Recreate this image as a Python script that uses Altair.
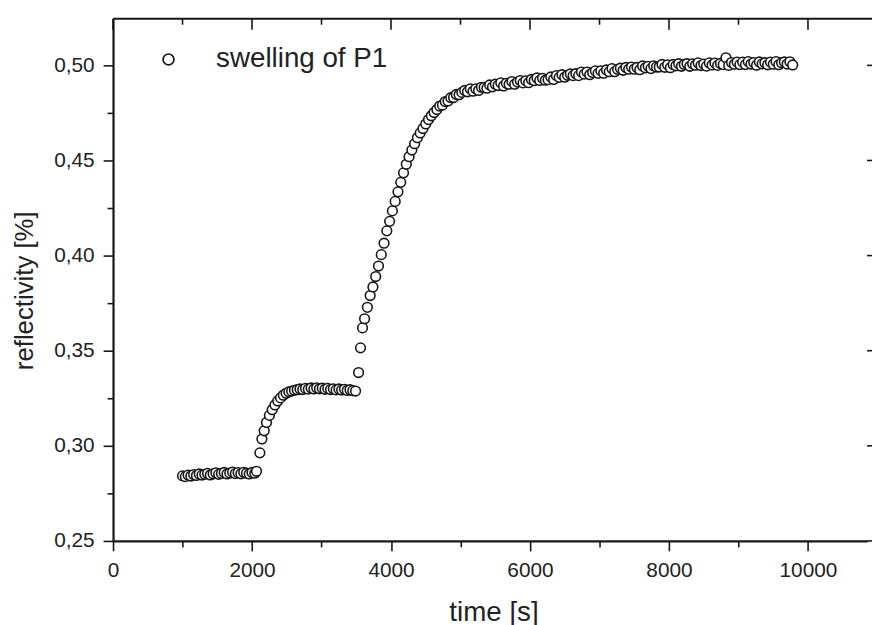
import altair as alt
import pandas as pd

# ---------------- data ----------------
series_name = "swelling of P1"

time_a = [1000, 1040, 1080, 1120, 1160, 1200, 1240, 1280, 1320, 1360, 1400, 1440, 1480, 1520,
          1560, 1600, 1640, 1680, 1720, 1760, 1800, 1840, 1880, 1920, 1960, 2000, 2040, 2065]
refl_a = [0.2842, 0.2838, 0.2846, 0.2841, 0.2849, 0.2844, 0.2852, 0.2846, 0.2850, 0.2855,
          0.2847, 0.2853, 0.2858, 0.2850, 0.2855, 0.2860, 0.2852, 0.2857, 0.2862, 0.2854,
          0.2859, 0.2853, 0.2861, 0.2856, 0.2852, 0.2860, 0.2856, 0.2866]

time_b = [2113, 2142, 2175, 2208, 2250, 2290, 2330, 2370, 2410, 2450, 2490, 2530, 2570, 2610,
          2650, 2690, 2730, 2770, 2810, 2850, 2890, 2930, 2970, 3010, 3050, 3090, 3130, 3170,
          3210, 3250, 3290, 3330, 3370, 3410, 3450, 3490]
refl_b = [0.2963, 0.3036, 0.3079, 0.3123, 0.3160, 0.3190, 0.3215, 0.3236, 0.3252, 0.3266,
          0.3276, 0.3284, 0.3288, 0.3292, 0.3295, 0.3299, 0.3296, 0.3302, 0.3298, 0.3304,
          0.3299, 0.3305, 0.3300, 0.3303, 0.3297, 0.3302, 0.3296, 0.3300, 0.3294, 0.3299,
          0.3293, 0.3297, 0.3291, 0.3295, 0.3290, 0.3288]

time_c = [3533, 3561, 3590, 3620, 3660, 3700, 3740, 3780, 3820, 3860, 3900, 3940, 3980, 4020,
          4060, 4100, 4140, 4180, 4220, 4260, 4300, 4340, 4380, 4420, 4460, 4500, 4540, 4580,
          4620, 4660, 4700, 4740, 4780, 4820, 4860, 4900, 4940, 4980, 5020]
refl_c = [0.3385, 0.3515, 0.3620, 0.3668, 0.3728, 0.3790, 0.3835, 0.3890, 0.3945, 0.4005,
          0.4065, 0.4130, 0.4180, 0.4235, 0.4285, 0.4335, 0.4385, 0.4435, 0.4480, 0.4520,
          0.4555, 0.4588, 0.4620, 0.4645, 0.4668, 0.4692, 0.4715, 0.4735, 0.4752, 0.4768,
          0.4786, 0.4791, 0.4810, 0.4813, 0.4830, 0.4831, 0.4847, 0.4846, 0.4858]

time_d = [5060, 5100, 5140, 5180, 5220, 5260, 5300, 5340, 5380, 5420,
          5460, 5500, 5540, 5580, 5620, 5660, 5700, 5740, 5780, 5820,
          5860, 5900, 5940, 5980, 6020, 6060, 6100, 6140, 6180, 6220,
          6260, 6300, 6340, 6380, 6420, 6460, 6500, 6540, 6580, 6620,
          6660, 6700, 6740, 6780, 6820, 6860, 6900, 6940, 6980, 7020,
          7060, 7100, 7140, 7180, 7220, 7260, 7300, 7340, 7380, 7420,
          7460, 7500, 7540, 7580, 7620, 7660, 7700, 7740, 7780, 7820,
          7860, 7900, 7940, 7980, 8020, 8060, 8100, 8140, 8180, 8220,
          8260, 8300, 8340, 8380, 8420, 8460, 8500, 8540, 8580, 8620,
          8660, 8700, 8740, 8780, 8820, 8860, 8900, 8940, 8980, 9020,
          9060, 9100, 9140, 9180, 9220, 9260, 9300, 9340, 9380, 9420,
          9460, 9500, 9540, 9580, 9620, 9660, 9700, 9740, 9780]
refl_d = [0.4868, 0.4861, 0.4877, 0.4864, 0.4877, 0.4868, 0.4885, 0.4884, 0.4880, 0.4897,
          0.4887, 0.4901, 0.4894, 0.4908, 0.4892, 0.4906, 0.4901, 0.4915, 0.4901, 0.4912,
          0.4920, 0.4908, 0.4919, 0.4909, 0.4926, 0.4920, 0.4934, 0.4921, 0.4932, 0.4922,
          0.4925, 0.4939, 0.4926, 0.4946, 0.4937, 0.4951, 0.4938, 0.4948, 0.4955, 0.4946,
          0.4956, 0.4946, 0.4965, 0.4954, 0.4965, 0.4951, 0.4963, 0.4971, 0.4958, 0.4971,
          0.4959, 0.4976, 0.4967, 0.4983, 0.4967, 0.4979, 0.4985, 0.4974, 0.4989, 0.4980,
          0.4991, 0.4980, 0.4989, 0.4977, 0.4997, 0.4987, 0.4995, 0.4983, 0.4998, 0.4991,
          0.4991, 0.5005, 0.4990, 0.5003, 0.4988, 0.5005, 0.4998, 0.5009, 0.4995, 0.5005,
          0.5009, 0.4995, 0.5008, 0.5001, 0.5013, 0.4999, 0.5007, 0.4996, 0.5013, 0.5002,
          0.5012, 0.5000, 0.5010, 0.5004, 0.5040, 0.5000, 0.5015, 0.5006, 0.5017, 0.5004,
          0.5017, 0.5004, 0.5020, 0.5007, 0.5015, 0.5001, 0.5018, 0.5008, 0.5014, 0.5003,
          0.5017, 0.5006, 0.5020, 0.5003, 0.5014, 0.5018, 0.5007, 0.5019, 0.5002]

x_major = [0, 2000, 4000, 6000, 8000, 10000]
x_ticks = [0, 1000, 2000, 3000, 4000, 5000, 6000, 7000, 8000, 9000, 10000]
y_major = [0.25, 0.30, 0.35, 0.40, 0.45, 0.50]
y_ticks = [0.25, 0.275, 0.30, 0.325, 0.35, 0.375, 0.40, 0.425, 0.45, 0.475, 0.50]

x_title = "time [s]"
y_title = "reflectivity [%]"

# ---------------- chart ----------------
W, H = 761, 527
FONT = "Liberation Sans"
INK = "#161616"

df = pd.DataFrame({
    "time": time_a + time_b + time_c + time_d,
    "refl": refl_a + refl_b + refl_c + refl_d,
})
df["series"] = series_name

xs = alt.Scale(domain=[0, 10850], nice=False, zero=False)
ys = alt.Scale(domain=[0.25, 0.5245], nice=False, zero=False)

x_axis = alt.Axis(
    values=x_ticks,
    labelExpr="datum.value % 2000 === 0 ? format(datum.value, 'd') : ''",
    tickSize={"condition": {"test": "datum.value % 2000 === 0", "value": 10}, "value": 6},
    labelFlush=False, labelOverlap=False, labelPadding=9,
    title=x_title, titleFontSize=28, titleX=384, titleY=80,
    titleAlign="center", titleBaseline="alphabetic",
)
y_axis = alt.Axis(
    values=y_ticks,
    labelExpr="round(datum.value * 1000) % 50 === 0 ? replace(format(datum.value, '.2f'), '.', ',') : ''",
    tickSize={"condition": {"test": "round(datum.value * 1000) % 50 === 0", "value": 10}, "value": 6},
    labelOverlap=False, labelPadding=9,
    title=y_title, titleFontSize=26, titleX=-81, titleY=274,
    titleAlign="center", titleBaseline="alphabetic", titleAngle=270,
)

points = alt.Chart(df).mark_point(
    shape="circle", filled=False, fill="white", size=95, strokeWidth=1.6, opacity=1
).encode(
    x=alt.X("time:Q", scale=xs, axis=x_axis),
    y=alt.Y("refl:Q", scale=ys, axis=y_axis),
    stroke=alt.Stroke("series:N", scale=alt.Scale(domain=[series_name], range=[INK]),
                      legend=alt.Legend(
                          orient="none", legendX=42, legendY=27, title=None,
                          symbolType="circle", symbolSize=120, symbolStrokeWidth=1.7,
                          symbolFillColor="white", symbolStrokeColor=INK,
                          labelFontSize=28, labelFont=FONT, labelColor="#222",
                          labelLimit=0, labelOffset=34, padding=0)),
)

top_major = alt.Chart(pd.DataFrame({"time": x_major})).mark_rule(
    color=INK, strokeWidth=1.6).encode(
    x=alt.X("time:Q", scale=xs, axis=x_axis), y=alt.value(0), y2=alt.value(11))
top_minor = alt.Chart(pd.DataFrame({"time": [t for t in x_ticks if t not in x_major]})).mark_rule(
    color=INK, strokeWidth=1.6).encode(
    x=alt.X("time:Q", scale=xs, axis=x_axis), y=alt.value(0), y2=alt.value(6))
right_major = alt.Chart(pd.DataFrame({"refl": y_major})).mark_rule(
    color=INK, strokeWidth=1.6).encode(
    y=alt.Y("refl:Q", scale=ys, axis=y_axis), x=alt.value(W), x2=alt.value(W + 5))
top_line = alt.Chart(pd.DataFrame({"k": [0]})).mark_rule(
    color=INK, strokeWidth=2.2).encode(
    x=alt.value(0), x2=alt.value(W + 5), y=alt.value(0))

chart = alt.layer(points, top_line, top_major, top_minor, right_major).properties(
    width=W, height=H,
    autosize=alt.AutoSizeParams(type="none"),
    padding={"left": 106, "top": 8, "right": 5, "bottom": 85},
).configure_view(stroke=None).configure_axis(
    grid=False, domainColor=INK, domainWidth=2.2, tickColor=INK, tickWidth=1.6,
    labelFont=FONT, labelFontSize=21, labelColor="#222",
    titleFont=FONT, titleFontWeight="normal", titleColor="#222",
)

chart.save("out.html", embed_options={"renderer": "svg", "actions": False})
